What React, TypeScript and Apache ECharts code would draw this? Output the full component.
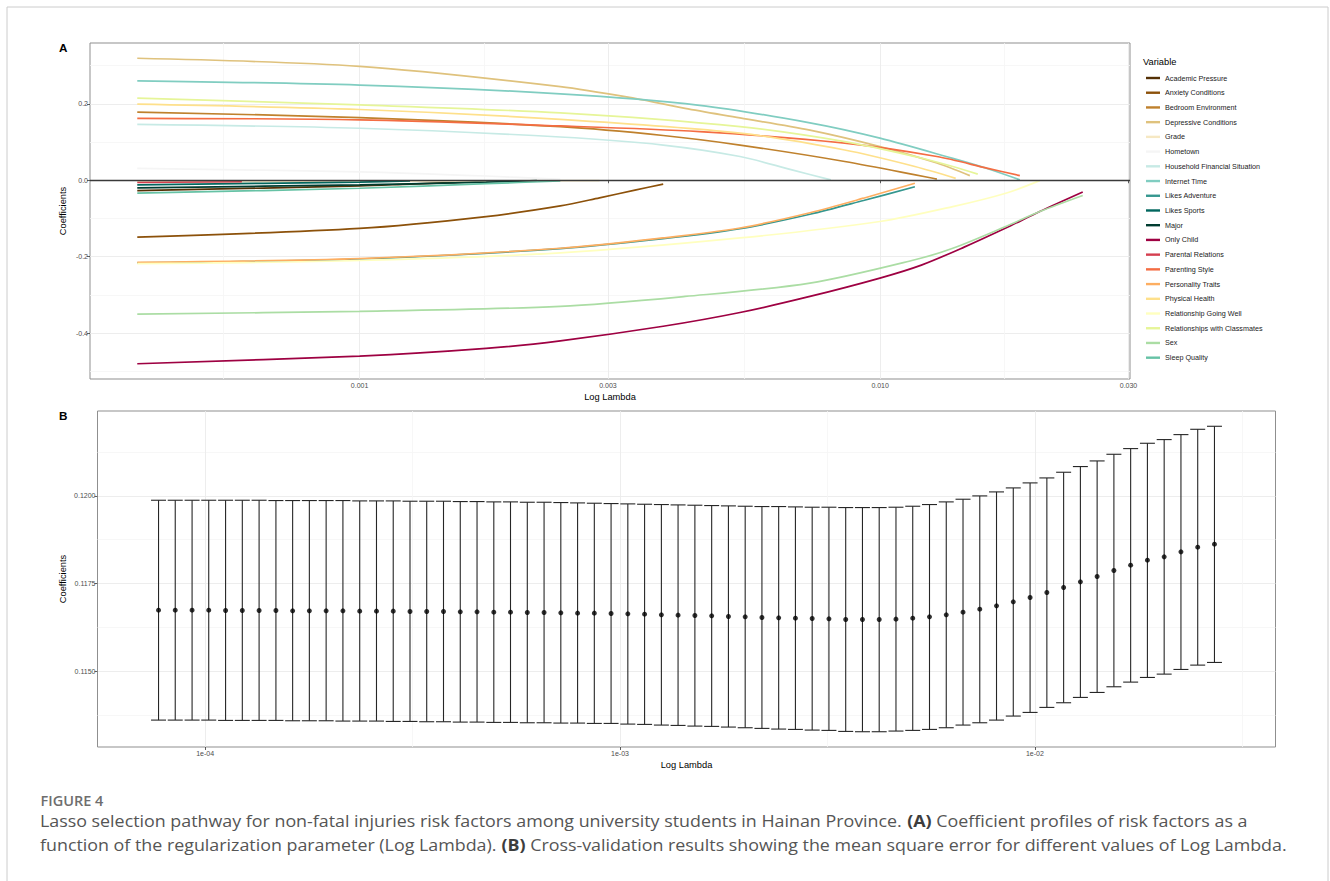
import React, { useEffect, useRef } from 'react';
import * as echarts from 'echarts';

// ---------- Panel A: lasso coefficient paths (lambda, coefficient) ----------
const variableNames = [
  'Academic Pressure', 'Anxiety Conditions', 'Bedroom Environment', 'Depressive Conditions',
  'Grade', 'Hometown', 'Household Financial Situation', 'Internet Time', 'Likes Adventure',
  'Likes Sports', 'Major', 'Only Child', 'Parental Relations', 'Parenting Style',
  'Personality Traits', 'Physical Health', 'Relationship Going Well',
  'Relationships with Classmates', 'Sex', 'Sleep Quality',
];
const variableColors = [
  '#543005', '#8c510a', '#bf812d', '#dfc27d', '#f6e8c3', '#f5f5f5', '#c7eae5', '#80cdc1',
  '#35978f', '#01665e', '#003c30', '#9e0142', '#d53e4f', '#f46d43', '#fdae61', '#fee08b',
  '#ffffbf', '#e6f598', '#abdda4', '#66c2a5',
];

const academicPressure = [[3.74e-4, -0.027], [1.0e-3, -0.015], [1.25e-3, -0.010], [1.75e-3, -0.003]];
const anxietyConditions = [[3.74e-4, -0.149], [1.0e-3, -0.126], [1.75e-3, -0.095], [2.43e-3, -0.067], [2.89e-3, -0.046], [3.38e-3, -0.026], [3.83e-3, -0.010]];
const bedroomEnvironment = [[3.74e-4, 0.178], [1.0e-3, 0.164], [2.43e-3, 0.140], [3.83e-3, 0.117], [5.38e-3, 0.092], [8.55e-3, 0.049], [1.285e-2, 0.003]];
const depressiveConditions = [[3.74e-4, 0.319], [1.0e-3, 0.298], [2.43e-3, 0.245], [3.38e-3, 0.214], [4.22e-3, 0.188], [5.38e-3, 0.163], [7.33e-3, 0.131], [9.99e-3, 0.088], [1.285e-2, 0.045], [1.487e-2, 0.012]];
const grade = [[3.74e-4, -0.004], [1.0e-3, -0.003], [2.89e-3, -0.001]];
const hometown = [[3.74e-4, 0.031], [1.0e-3, 0.022], [1.75e-3, 0.011], [2.43e-3, 0.002]];
const householdFinancial = [[3.74e-4, 0.146], [1.0e-3, 0.136], [2.43e-3, 0.113], [3.83e-3, 0.092], [5.38e-3, 0.062], [6.77e-3, 0.027], [8.04e-3, 0.001]];
const internetTime = [[3.74e-4, 0.260], [1.0e-3, 0.249], [2.43e-3, 0.226], [4.5e-3, 0.196], [7.33e-3, 0.150], [9.99e-3, 0.110], [1.379e-2, 0.057], [1.61e-2, 0.030], [1.855e-2, 0.001]];
const likesAdventure = [[3.74e-4, -0.216], [1.0e-3, -0.206], [2.43e-3, -0.179], [3.83e-3, -0.153], [5.38e-3, -0.127], [7.33e-3, -0.089], [9.29e-3, -0.053], [1.166e-2, -0.017]];
const likesSports = [[3.74e-4, -0.012], [1.0e-3, -0.005], [1.25e-3, -0.002]];
const major = [[3.74e-4, -0.020], [1.0e-3, -0.012], [1.75e-3, -0.005], [2.19e-3, -0.001]];
const onlyChild = [[3.74e-4, -0.480], [1.0e-3, -0.460], [1.75e-3, -0.440], [2.43e-3, -0.420], [3.83e-3, -0.382], [5.38e-3, -0.346], [7.33e-3, -0.304], [9.99e-3, -0.256], [1.2e-2, -0.222], [1.45e-2, -0.175], [1.743e-2, -0.125], [2.026e-2, -0.082], [2.45e-2, -0.031]];
const parentalRelations = [[3.74e-4, -0.006], [5.94e-4, -0.004]];
const parentingStyle = [[3.74e-4, 0.162], [1.0e-3, 0.158], [2.43e-3, 0.142], [4.5e-3, 0.127], [8.55e-3, 0.097], [1.285e-2, 0.062], [1.61e-2, 0.031], [1.855e-2, 0.012]];
const personalityTraits = [[3.74e-4, -0.215], [1.0e-3, -0.205], [2.43e-3, -0.178], [3.83e-3, -0.151], [5.38e-3, -0.125], [7.33e-3, -0.085], [9.29e-3, -0.047], [1.166e-2, -0.008]];
const physicalHealth = [[3.74e-4, 0.199], [1.0e-3, 0.185], [2.43e-3, 0.159], [5.38e-3, 0.123], [8.55e-3, 0.079], [1.166e-2, 0.036], [1.397e-2, 0.005]];
const relationshipGoingWell = [[3.74e-4, -0.218], [1.0e-3, -0.210], [2.43e-3, -0.190], [5.38e-3, -0.151], [9.99e-3, -0.108], [1.379e-2, -0.069], [1.743e-2, -0.034], [2.026e-2, -0.001]];
const relationshipsClassmates = [[3.74e-4, 0.215], [1.0e-3, 0.197], [2.43e-3, 0.176], [5.38e-3, 0.140], [8.55e-3, 0.101], [1.166e-2, 0.062], [1.379e-2, 0.036], [1.54e-2, 0.016]];
const sex = [[3.74e-4, -0.350], [1.0e-3, -0.343], [2.43e-3, -0.330], [4.22e-3, -0.304], [7.33e-3, -0.269], [1.166e-2, -0.208], [1.379e-2, -0.178], [1.743e-2, -0.121], [2.026e-2, -0.082], [2.45e-2, -0.040]];
const sleepQuality = [[3.74e-4, -0.034], [1.0e-3, -0.021], [1.75e-3, -0.009], [2.43e-3, -0.002]];

const variablePaths = [
  academicPressure, anxietyConditions, bedroomEnvironment, depressiveConditions, grade, hometown,
  householdFinancial, internetTime, likesAdventure, likesSports, major, onlyChild, parentalRelations,
  parentingStyle, personalityTraits, physicalHealth, relationshipGoingWell, relationshipsClassmates,
  sex, sleepQuality,
];

const pathLambdaTicks = [0.001, 0.003, 0.01, 0.03];
const pathLambdaLabels = ['0.001', '0.003', '0.010', '0.030'];
const pathLambdaMinor = [5.477e-4, 1.732e-3, 5.477e-3, 1.732e-2];
const pathCoefTicks = [-0.4, -0.2, 0, 0.2];
const pathCoefLabels = ['-0.4', '-0.2', '0.0', '0.2'];
const pathCoefMinor = [-0.5, -0.3, -0.1, 0.1, 0.3];

// ---------- Panel B: cross-validation ----------
const cvLambda = [
  7.72e-5, 8.47e-5, 9.30e-5, 1.020e-4, 1.120e-4, 1.229e-4, 1.349e-4, 1.481e-4, 1.625e-4, 1.783e-4,
  1.957e-4, 2.148e-4, 2.358e-4, 2.588e-4, 2.840e-4, 3.117e-4, 3.420e-4, 3.754e-4, 4.120e-4, 4.522e-4,
  4.963e-4, 5.445e-4, 5.977e-4, 6.560e-4, 7.199e-4, 7.901e-4, 8.670e-4, 9.515e-4, 1.0442e-3, 1.146e-3,
  1.258e-3, 1.380e-3, 1.515e-3, 1.663e-3, 1.825e-3, 2.003e-3, 2.198e-3, 2.412e-3, 2.647e-3, 2.905e-3,
  3.188e-3, 3.499e-3, 3.840e-3, 4.214e-3, 4.625e-3, 5.076e-3, 5.571e-3, 6.114e-3, 6.710e-3, 7.364e-3,
  8.081e-3, 8.869e-3, 9.736e-3, 1.0686e-2, 1.1728e-2, 1.2872e-2, 1.4125e-2, 1.5502e-2, 1.7013e-2, 1.8672e-2,
  2.0492e-2, 2.2491e-2, 2.4684e-2, 2.7090e-2,
];
const cvMean = [
  0.116739, 0.116739, 0.116739, 0.116739, 0.11673, 0.11673, 0.11673, 0.11673, 0.11672, 0.11672,
  0.11672, 0.11672, 0.116711, 0.116711, 0.116711, 0.116701, 0.116701, 0.116701, 0.116692, 0.116692,
  0.116682, 0.116682, 0.116673, 0.116673, 0.116663, 0.116654, 0.116654, 0.116644, 0.116635, 0.116625,
  0.116606, 0.116597, 0.116587, 0.116578, 0.116559, 0.116549, 0.11653, 0.116521, 0.116511, 0.116502,
  0.116492, 0.116473, 0.116473, 0.116473, 0.116483, 0.116511, 0.116549, 0.116606, 0.116682, 0.116768,
  0.116863, 0.116977, 0.117101, 0.117243, 0.117386, 0.117547, 0.1177, 0.117871, 0.118023, 0.118165,
  0.11826, 0.118403, 0.118536, 0.118622,
];
const cvUpper = [
  0.119876, 0.119876, 0.119876, 0.119876, 0.119876, 0.119876, 0.119876, 0.119867, 0.119867, 0.119867,
  0.119867, 0.119867, 0.119857, 0.119857, 0.119857, 0.119848, 0.119848, 0.119848, 0.119838, 0.119838,
  0.119829, 0.119829, 0.119819, 0.119819, 0.11981, 0.1198, 0.119791, 0.119781, 0.119772, 0.119762,
  0.119753, 0.119743, 0.119734, 0.119724, 0.119715, 0.119705, 0.119696, 0.119696, 0.119686, 0.119677,
  0.119677, 0.119667, 0.119667, 0.119667, 0.119677, 0.119705, 0.119753, 0.119829, 0.119905, 0.12,
  0.120114, 0.120228, 0.120371, 0.120513, 0.120675, 0.120837, 0.120998, 0.121188, 0.12135, 0.121502,
  0.121607, 0.121749, 0.121901, 0.121987,
];
const cvLower = [
  0.113602, 0.113602, 0.113602, 0.113602, 0.113593, 0.113593, 0.113593, 0.113593, 0.113583, 0.113583,
  0.113583, 0.113574, 0.113574, 0.113574, 0.113564, 0.113564, 0.113555, 0.113555, 0.113545, 0.113545,
  0.113536, 0.113536, 0.113526, 0.113526, 0.113517, 0.113517, 0.113507, 0.113507, 0.113488, 0.113479,
  0.11346, 0.11345, 0.113431, 0.113422, 0.113403, 0.113384, 0.113365, 0.113346, 0.113336, 0.113317,
  0.113308, 0.113279, 0.11327, 0.11327, 0.113289, 0.113308, 0.113336, 0.113384, 0.11346, 0.113526,
  0.113602, 0.113717, 0.113821, 0.113964, 0.114097, 0.114249, 0.114391, 0.114553, 0.114686, 0.114819,
  0.114914, 0.115047, 0.115171, 0.115247,
];
const cvLambdaTicks = [1e-4, 1e-3, 1e-2];
const cvLambdaLabels = ['1e-04', '1e-03', '1e-02'];
const cvLambdaMinor = [3.1623e-4, 3.1623e-3, 3.1623e-2];
const cvTicks = [0.115, 0.1175, 0.12];
const cvTickLabels = ['0.1150', '0.1175', '0.1200'];
const cvMinor = [0.11375, 0.11625, 0.11875, 0.12125];

// ---------- texts ----------
const panelLabels = ['A', 'B'];
const axisXTitle = 'Log Lambda';
const axisYTitle = 'Coefficients';
const legendTitle = 'Variable';
const figureLabel = 'FIGURE 4';
const captionLine1 = 'Lasso selection pathway for non-fatal injuries risk factors among university students in Hainan Province. {b|(A)} Coefficient profiles of risk factors as a';
const captionLine2 = 'function of the regularization parameter (Log Lambda). {b|(B)} Cross-validation results showing the mean square error for different values of Log Lambda.';

const FONT = "'Liberation Sans', Arial, Helvetica, sans-serif";
const CAP_FONT = "'Open Sans', 'Noto Sans', sans-serif";

const expand = (lo: number, hi: number) => {
  const r = hi - lo;
  return [lo - r * 0.05, hi + r * 0.05];
};
const nearestLabel = (ticks: number[], labels: string[]) => (v: number) => {
  let best = 0;
  let d = Infinity;
  ticks.forEach((t, i) => {
    const dd = Math.abs(t - v);
    if (dd < d) { d = dd; best = i; }
  });
  return labels[best];
};

function buildOption() {
  const lg = (v: number) => Math.log10(v);
  const allX = variablePaths.flat().map((p) => lg(p[0]));
  const allY = variablePaths.flat().map((p) => p[1]);
  const [axMin, axMax] = expand(Math.min(...allX), Math.max(...allX));
  const [ayMin, ayMax] = expand(Math.min(...allY), Math.max(...allY));
  const bx = cvLambda.map(lg);
  let step = Infinity;
  for (let i = 1; i < bx.length; i++) step = Math.min(step, bx[i] - bx[i - 1]);
  const capHalf = 0.45 * step;
  const [bxMin, bxMax] = expand(Math.min(...bx) - capHalf, Math.max(...bx) + capHalf);
  const [byMin, byMax] = expand(Math.min(...cvLower), Math.max(...cvUpper));

  const tickStyle = { color: '#333333', width: 0.8 };
  const labelStyle = { fontSize: 7, color: '#4d4d4d', fontFamily: FONT };
  const nameStyle = { fontSize: 9.3, color: '#000', fontFamily: FONT };

  const majorX = (grid: number, min: number, max: number, ticks: number[], labels: string[], gap: number) => ({
    type: 'value', gridIndex: grid, min, max, position: 'bottom',
    axisLine: { show: false },
    axisTick: { show: true, length: 3, customValues: ticks, lineStyle: tickStyle },
    axisLabel: { ...labelStyle, margin: 2.5, customValues: ticks, formatter: nearestLabel(ticks, labels) },
    splitLine: { show: true, lineStyle: { color: '#ebebeb', width: 0.9 } },
    name: axisXTitle, nameLocation: 'middle', nameGap: gap, nameTextStyle: nameStyle, nameMoveOverlap: false,
  });
  const majorY = (grid: number, min: number, max: number, ticks: number[], labels: string[], gap: number) => ({
    type: 'value', gridIndex: grid, min, max, position: 'left',
    axisLine: { show: false },
    axisTick: { show: true, length: 3, customValues: ticks, lineStyle: tickStyle },
    axisLabel: { ...labelStyle, margin: 2, customValues: ticks, formatter: nearestLabel(ticks, labels) },
    splitLine: { show: true, lineStyle: { color: '#ebebeb', width: 0.9 } },
    name: axisYTitle, nameLocation: 'middle', nameGap: gap, nameTextStyle: nameStyle, nameMoveOverlap: false,
  });
  const minorAxis = (grid: number, min: number, max: number, ticks: number[], pos: string) => ({
    type: 'value', gridIndex: grid, min, max, position: pos,
    axisLine: { show: false },
    axisTick: { show: false, customValues: ticks },
    axisLabel: { show: false, customValues: ticks },
    splitLine: { show: true, lineStyle: { color: '#f5f5f5', width: 0.8 } },
  });

  const pathSeries = variablePaths.map((path, i) => ({
    type: 'line',
    name: variableNames[i],
    xAxisIndex: 0,
    yAxisIndex: 0,
    data: path.map((p) => [lg(p[0]), p[1]]),
    showSymbol: false,
    symbol: 'none',
    smooth: 0.3,
    lineStyle: { color: variableColors[i], width: 1.7 },
    itemStyle: { color: variableColors[i] },
    z: 3,
    silent: true,
  }));

  const capText = (text: string, y: number) => ({
    type: 'text', x: 40, y, scaleX: 1.116, style: {
      text, fontSize: 16, fontFamily: CAP_FONT, fill: '#555555', verticalAlign: 'middle',
      rich: { b: { fontSize: 16, fontFamily: CAP_FONT, fontWeight: 'bold', fill: '#3d3d3d' } },
    },
  });

  return {
    animation: false,
    backgroundColor: '#ffffff',
    grid: [
      { left: 90, top: 43, width: 1040, height: 336, show: true, borderColor: '#8f8f8f', borderWidth: 1, backgroundColor: '#fff' },
      { left: 97.5, top: 411, width: 1178, height: 336, show: true, borderColor: '#8f8f8f', borderWidth: 1, backgroundColor: '#fff' },
    ],
    xAxis: [
      majorX(0, axMin, axMax, pathLambdaTicks.map(lg), pathLambdaLabels, 13),
      minorAxis(0, axMin, axMax, pathLambdaMinor.map(lg), 'top'),
      majorX(1, bxMin, bxMax, cvLambdaTicks.map(lg), cvLambdaLabels, 13.5),
      minorAxis(1, bxMin, bxMax, cvLambdaMinor.map(lg), 'top'),
    ],
    yAxis: [
      majorY(0, ayMin, ayMax, pathCoefTicks, pathCoefLabels, 22.4),
      minorAxis(0, ayMin, ayMax, pathCoefMinor, 'right'),
      majorY(1, byMin, byMax, cvTicks, cvTickLabels, 29.9),
      minorAxis(1, byMin, byMax, cvMinor, 'right'),
    ],
    legend: {
      orient: 'vertical',
      left: 1146,
      top: 73,
      padding: 0,
      itemWidth: 14,
      itemHeight: 2.4,
      itemGap: 4.72,
      icon: 'rect',
      selectedMode: false,
      data: variableNames,
      textStyle: { fontSize: 7.2, color: '#1a1a1a', fontFamily: FONT, lineHeight: 10 },
    },
    series: [
      ...pathSeries,
      {
        type: 'line',
        name: 'zero',
        xAxisIndex: 0,
        yAxisIndex: 0,
        data: [],
        z: 10,
        silent: true,
        markLine: {
          silent: true,
          symbol: ['none', 'none'],
          label: { show: false },
          lineStyle: { color: '#3a3a3a', width: 1.3, type: 'solid' },
          data: [{ yAxis: 0 }],
        },
      },
      {
        type: 'custom',
        name: 'cv-bars',
        xAxisIndex: 2,
        yAxisIndex: 2,
        data: cvLambda.map((l, i) => [lg(l), cvLower[i], cvUpper[i]]),
        encode: { x: 0, y: [1, 2] },
        silent: true,
        renderItem: (params: any, api: any) => {
          const x = api.value(0);
          const lo = api.coord([x, api.value(1)]);
          const hi = api.coord([x, api.value(2)]);
          const l = api.coord([x - capHalf, api.value(1)])[0];
          const r = api.coord([x + capHalf, api.value(1)])[0];
          const st = { stroke: '#262626', lineWidth: 1.1 };
          return {
            type: 'group',
            children: [
              { type: 'line', shape: { x1: lo[0], y1: lo[1], x2: hi[0], y2: hi[1] }, style: st },
              { type: 'line', shape: { x1: l, y1: lo[1], x2: r, y2: lo[1] }, style: st },
              { type: 'line', shape: { x1: l, y1: hi[1], x2: r, y2: hi[1] }, style: st },
            ],
          };
        },
        z: 3,
      },
      {
        type: 'scatter',
        name: 'cv-mean',
        xAxisIndex: 2,
        yAxisIndex: 2,
        data: cvLambda.map((l, i) => [lg(l), cvMean[i]]),
        symbol: 'circle',
        symbolSize: 5,
        itemStyle: { color: '#000' },
        silent: true,
        z: 4,
      },
    ],
    graphic: [
      { type: 'rect', shape: { x: 7, y: 7, width: 1321, height: 900 }, style: { fill: 'none', stroke: '#cccccc', lineWidth: 1 }, silent: true },
      { type: 'text', x: 59, y: 47.5, style: { text: panelLabels[0], fontSize: 11.7, fontWeight: 'bold', fontFamily: FONT, fill: '#000', verticalAlign: 'middle' } },
      { type: 'text', x: 59, y: 415, style: { text: panelLabels[1], fontSize: 11.7, fontWeight: 'bold', fontFamily: FONT, fill: '#000', verticalAlign: 'middle' } },
      { type: 'text', x: 1143, y: 62.3, style: { text: legendTitle, fontSize: 9.3, fontFamily: FONT, fill: '#000', verticalAlign: 'middle' } },
      { type: 'text', x: 40.5, y: 800, style: { text: figureLabel, fontSize: 14.5, fontWeight: 600, fontFamily: CAP_FONT, fill: '#6e6e6e', verticalAlign: 'middle' } },
      capText(captionLine1, 821),
      capText(captionLine2, 844.5),
    ],
  };
}

export default function App() {
  const ref = useRef<HTMLDivElement>(null);
  useEffect(() => {
    if (!ref.current) return;
    const chart = echarts.init(ref.current, undefined, { renderer: 'svg' });
    chart.setOption(buildOption() as any);
    return () => chart.dispose();
  }, []);
  return <div ref={ref} style={{ position: 'absolute', left: 0, top: 0, width: 1330, height: 881 }} />;
}
